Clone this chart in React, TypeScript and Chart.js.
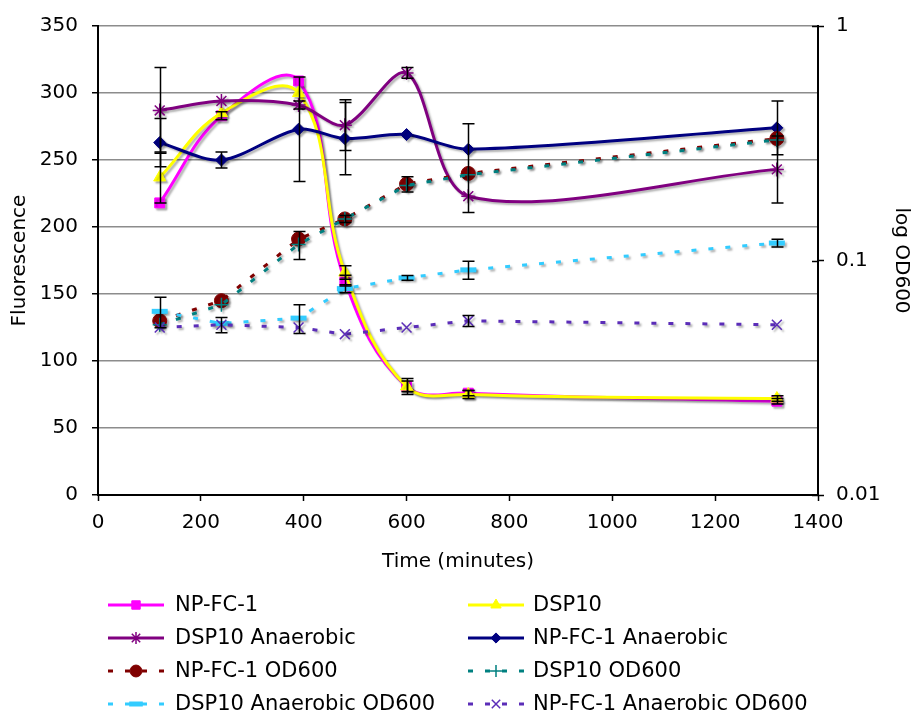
import React, { useEffect, useRef } from 'react';
import { Chart, registerables } from 'chart.js';
import { drawPoint } from 'chart.js/helpers';

Chart.register(...registerables);

// ---- data ----
const TIMES = [120, 240, 390, 480, 600, 720, 1320];
const LABELS = [
  'NP-FC-1',
  'DSP10',
  'DSP10 Anaerobic',
  'NP-FC-1 Anaerobic',
  'NP-FC-1 OD600',
  'DSP10 OD600',
  'DSP10 Anaerobic OD600',
  'NP-FC-1 Anaerobic OD600',
];
const NPFC1 = [218, 283, 309, 160, 81, 76, 70];
const DSP10 = [237, 285, 300, 166, 81, 75, 72];
const DSP10_ANAEROBIC = [287, 294, 291, 276, 315, 223, 243];
const NPFC1_ANAEROBIC = [263, 250, 273, 266, 269, 258, 274];
const NPFC1_OD = [0.0553, 0.0674, 0.1234, 0.1504, 0.2117, 0.2351, 0.3311];
const DSP10_OD = [0.0532, 0.0648, 0.1171, 0.1504, 0.2089, 0.2321, 0.3268];
const DSP10_ANAEROBIC_OD = [0.0607, 0.0539, 0.0568, 0.0759, 0.0843, 0.0912, 0.1187];
const NPFC1_ANAEROBIC_OD = [0.0518, 0.0532, 0.0518, 0.0485, 0.0518, 0.0553, 0.0532];

// error bars: number = symmetric, [minus, plus] = asymmetric, null = none
const ERR_NPFC1 = [null, 3, null, 4, 6, 2, 2];
const ERR_DSP10 = [19, null, null, 5, 4, 3, 2];
const ERR_DSP10_ANAEROBIC = [32, null, 3, 19, 4, null, 25];
const ERR_NPFC1_ANAEROBIC = [18, 6, 39, 27, null, null, 20];
const ERR_NPFC1_OD = [null, null, null, 0.005, 0.016, [0.075, 0.148], null];
const ERR_DSP10_OD = [null, null, 0.016, null, null, null, null];
const ERR_DSP10_ANAEROBIC_OD = [0.009, null, 0.008, 0.003, 0.002, 0.008, 0.0045];
const ERR_NPFC1_ANAEROBIC_OD = [null, 0.004, null, null, null, 0.003, null];

const FONT = 'DejaVu Sans, Verdana, sans-serif';

const pts = (vals: number[]) => TIMES.map((t, i) => ({ x: t, y: vals[i] }));

const errorBarPlugin = {
  id: 'errorBars',
  afterDatasetsDraw(chart: any) {
    const { ctx } = chart;
    const xs = chart.scales.x;
    ctx.save();
    ctx.strokeStyle = '#000';
    ctx.lineWidth = 1.5;
    ctx.setLineDash([]);
    chart.data.datasets.forEach((ds: any) => {
      const errs = ds.errors;
      if (!errs) return;
      const ys = chart.scales[ds.yAxisID];
      ds.data.forEach((p: any, i: number) => {
        const e = errs[i];
        if (e === null || e === undefined) return;
        const [m, pl] = Array.isArray(e) ? e : [e, e];
        const x = Math.round(xs.getPixelForValue(p.x)) + 0.5;
        const yTop = ys.getPixelForValue(p.y + pl);
        const yBot = ys.getPixelForValue(p.y - m);
        ctx.beginPath();
        ctx.moveTo(x, yTop);
        ctx.lineTo(x, yBot);
        ctx.moveTo(x - 6, yTop);
        ctx.lineTo(x + 6, yTop);
        ctx.moveTo(x - 6, yBot);
        ctx.lineTo(x + 6, yBot);
        ctx.stroke();
      });
    });
    ctx.restore();
  },
};

const shadowPlugin = {
  id: 'shadow',
  beforeDatasetDraw(chart: any) {
    const ctx = chart.ctx;
    ctx.save();
    ctx.shadowColor = 'rgba(0,0,0,0.3)';
    ctx.shadowOffsetX = 2;
    ctx.shadowOffsetY = 2;
    ctx.shadowBlur = 2;
  },
  afterDatasetDraw(chart: any) {
    chart.ctx.restore();
  },
};

const extrasPlugin = {
  id: 'extras',
  afterDraw(chart: any) {
    const { ctx } = chart;
    const y1 = chart.scales.y1;
    ctx.save();
    // inner tick marks on right axis
    ctx.strokeStyle = '#000';
    ctx.lineWidth = 1.5;
    y1.ticks.forEach((t: any) => {
      const y = Math.round(y1.getPixelForValue(t.value)) + 0.5;
      ctx.beginPath();
      ctx.moveTo(y1.left - 6, y);
      ctx.lineTo(y1.left, y);
      ctx.stroke();
    });
    // custom two-column legend
    const colSample = [108, 468];
    const colText = [175, 533];
    const rowY = [605, 638, 671, 704];
    const sampleLen = 56;
    ctx.font = '21px ' + FONT;
    ctx.textBaseline = 'middle';
    ctx.textAlign = 'left';
    chart.data.datasets.forEach((ds: any, i: number) => {
      const col = i % 2;
      const row = Math.floor(i / 2);
      const x0 = colSample[col];
      const y = rowY[row];
      ctx.save();
      ctx.strokeStyle = ds.borderColor;
      ctx.lineWidth = ds.borderWidth;
      ctx.setLineDash(ds.borderDash || []);
      ctx.beginPath();
      ctx.moveTo(x0, y);
      ctx.lineTo(x0 + sampleLen, y);
      ctx.stroke();
      ctx.setLineDash([]);
      ctx.fillStyle = ds.pointBackgroundColor;
      ctx.strokeStyle = ds.pointBorderColor;
      ctx.lineWidth = ds.pointBorderWidth;
      drawPoint(
        ctx,
        { pointStyle: ds.pointStyle, rotation: 0, radius: ds.pointRadius * 0.85, borderWidth: ds.pointBorderWidth },
        x0 + sampleLen / 2,
        y
      );
      ctx.restore();
      ctx.fillStyle = '#000';
      ctx.fillText(ds.label, colText[col], y + 1);
    });
    ctx.restore();
  },
};

type SeriesDef = {
  label: string;
  vals: number[];
  errs: any[];
  color: string;
  fill: string;
  style: string;
  radius: number;
  pbw: number;
  axis: string;
  dashed: boolean;
  tension: number;
};

const SERIES: SeriesDef[] = [
  { label: LABELS[0], vals: NPFC1, errs: ERR_NPFC1, color: '#FF00FF', fill: '#FF00FF', style: 'rect', radius: 7, pbw: 1, axis: 'y', dashed: false, tension: 0.4 },
  { label: LABELS[1], vals: DSP10, errs: ERR_DSP10, color: '#FFFF00', fill: '#FFFF00', style: 'triangle', radius: 7, pbw: 1, axis: 'y', dashed: false, tension: 0.4 },
  { label: LABELS[2], vals: DSP10_ANAEROBIC, errs: ERR_DSP10_ANAEROBIC, color: '#800080', fill: '#800080', style: 'star', radius: 7, pbw: 1.5, axis: 'y', dashed: false, tension: 0.3 },
  { label: LABELS[3], vals: NPFC1_ANAEROBIC, errs: ERR_NPFC1_ANAEROBIC, color: '#000080', fill: '#000080', style: 'rectRot', radius: 6, pbw: 1, axis: 'y', dashed: false, tension: 0.3 },
  { label: LABELS[4], vals: NPFC1_OD, errs: ERR_NPFC1_OD, color: '#800000', fill: '#800000', style: 'circle', radius: 7, pbw: 1, axis: 'y1', dashed: true, tension: 0 },
  { label: LABELS[5], vals: DSP10_OD, errs: ERR_DSP10_OD, color: '#008080', fill: '#008080', style: 'cross', radius: 7, pbw: 1.5, axis: 'y1', dashed: true, tension: 0 },
  { label: LABELS[6], vals: DSP10_ANAEROBIC_OD, errs: ERR_DSP10_ANAEROBIC_OD, color: '#33CCFF', fill: '#33CCFF', style: 'line', radius: 8, pbw: 5, axis: 'y1', dashed: true, tension: 0 },
  { label: LABELS[7], vals: NPFC1_ANAEROBIC_OD, errs: ERR_NPFC1_ANAEROBIC_OD, color: '#5B2DB8', fill: '#5B2DB8', style: 'crossRot', radius: 7, pbw: 1.5, axis: 'y1', dashed: true, tension: 0 },
];

export default function App() {
  const ref = useRef<HTMLCanvasElement | null>(null);

  useEffect(() => {
    if (!ref.current) return;
    const n = SERIES.length;
    const datasets = SERIES.map((s, i) => ({
      label: s.label,
      data: pts(s.vals),
      errors: s.errs,
      yAxisID: s.axis,
      borderColor: s.color,
      backgroundColor: s.fill,
      borderWidth: 3,
      borderDash: s.dashed ? [5, 12] : [],
      borderCapStyle: 'butt',
      tension: s.tension,
      pointStyle: s.style,
      pointRadius: s.radius,
      pointBackgroundColor: s.fill,
      pointBorderColor: s.color,
      pointBorderWidth: s.pbw,
      fill: false,
      order: n - 1 - i,
    }));

    const chart = new Chart(ref.current, {
      type: 'line',
      data: { datasets } as any,
      plugins: [shadowPlugin, errorBarPlugin, extrasPlugin],
      options: {
        animation: false,
        responsive: false,
        layout: { padding: { top: 20, bottom: 134, left: 0, right: 0 } },
        plugins: { legend: { display: false }, tooltip: { enabled: false } },
        scales: {
          x: {
            type: 'linear',
            min: 0,
            max: 1400,
            afterFit: (s: any) => {
              s.height = 90;
            },
            ticks: {
              stepSize: 200,
              autoSkip: false,
              maxRotation: 0,
              padding: 10,
              color: '#000',
              font: { family: FONT, size: 20 },
              callback: (v: any) => String(v),
            },
            grid: { drawOnChartArea: false, drawTicks: true, tickLength: 6, tickColor: '#000', tickWidth: 1.5 },
            border: { color: '#000', width: 2 },
            title: { display: true, text: 'Time (minutes)', color: '#000', font: { family: FONT, size: 20 }, padding: { top: 0, bottom: 11 } },
          },
          y: {
            type: 'linear',
            position: 'left',
            min: 0,
            max: 350,
            afterFit: (s: any) => {
              s.width = 98;
            },
            ticks: { stepSize: 50, padding: 14, color: '#000', font: { family: FONT, size: 20 } },
            grid: { color: '#8c8c8c', lineWidth: 1.5, drawTicks: true, tickLength: 6, tickColor: '#000', tickWidth: 1.5 },
            border: { color: '#000', width: 2 },
            title: { display: true, text: 'Fluorescence', color: '#000', font: { family: FONT, size: 20 }, padding: { top: 8, bottom: 0 } },
          },
          y1: {
            type: 'logarithmic',
            position: 'right',
            min: 0.01,
            max: 1,
            afterFit: (s: any) => {
              s.width = 102;
            },
            afterBuildTicks: (s: any) => {
              s.ticks = [{ value: 0.01 }, { value: 0.1 }, { value: 1 }];
            },
            ticks: {
              padding: 12,
              color: '#000',
              font: { family: FONT, size: 20 },
              callback: (v: any) => String(Number(v)),
            },
            grid: { drawOnChartArea: false, drawTicks: true, tickLength: 6, tickColor: '#000', tickWidth: 1.5 },
            border: { color: '#000', width: 2 },
            title: { display: true, text: 'log OD600', color: '#000', font: { family: FONT, size: 20 }, padding: { top: 7, bottom: 0 } },
          },
        },
      } as any,
    });
    return () => chart.destroy();
  }, []);

  return (
    <div style={{ position: 'absolute', left: 0, top: 0, width: 920, height: 719, background: '#fff' }}>
      <canvas ref={ref} width={920} height={719} style={{ width: 920, height: 719 }} />
    </div>
  );
}
